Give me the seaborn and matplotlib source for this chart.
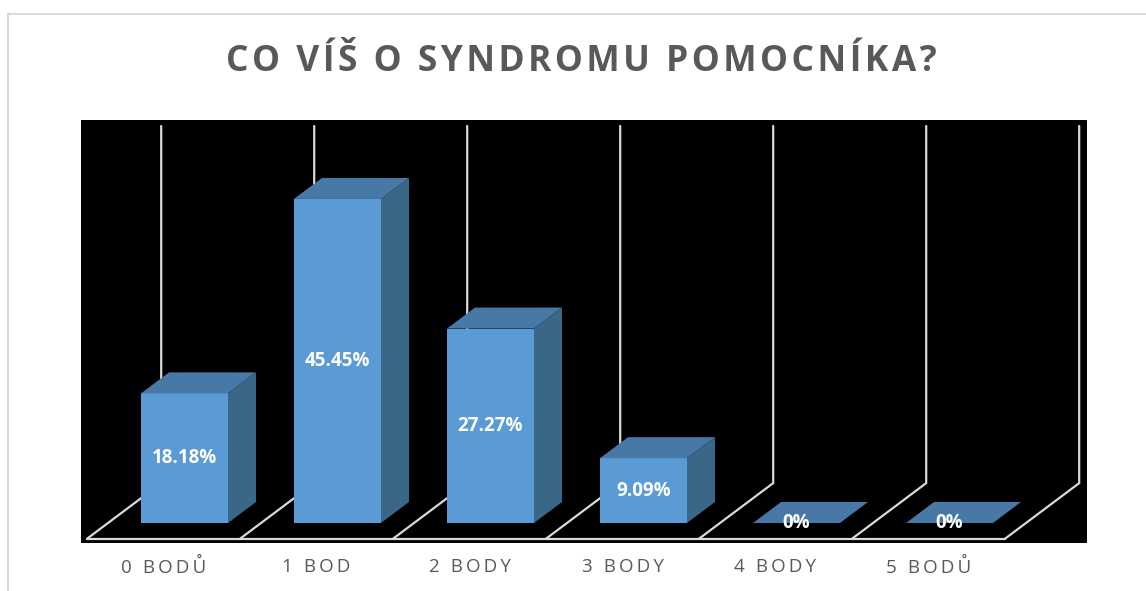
import matplotlib
matplotlib.use("Agg")
import matplotlib.pyplot as plt
import seaborn as sns
from matplotlib.patches import Polygon, Rectangle

# data
categories = ["0 BODŮ", "1 BOD", "2 BODY", "3 BODY", "4 BODY", "5 BODŮ"]
values = [18.18, 45.45, 27.27, 9.09, 0, 0]
value_labels = ["18.18%", "45.45%", "27.27%", "9.09%", "0%", "0%"]
title = "CO VÍŠ O SYNDROMU POMOCNÍKA?"

FRONT = "#5B9BD5"
TOP = "#4778A6"
SIDE = "#3A6688"
GRID = "#D9D9D9"
TEXT = "#595959"


def spaced(s, sep="\u2009"):
    # imitate the wide letter spacing of the original
    return sep.join(s)


sns.set_theme(style="white")
plt.rcParams["font.family"] = ["Open Sans", "DejaVu Sans"]

W, H = 1146, 591
fig = plt.figure(figsize=(W / 100, H / 100), dpi=100)
fig.patch.set_facecolor("white")

# light frame around the chart
fig.patches.append(Rectangle((8 / W, -0.1), 1.2, 1 - 14 / H + 0.1,
                             transform=fig.transFigure, fill=False,
                             edgecolor=GRID, lw=1.5))

ax = fig.add_axes([81 / W, (H - 543) / H, (1087 - 81) / W, (543 - 120) / H])
ax.set_facecolor("black")

sns.barplot(x=categories, y=values, order=categories, color=FRONT,
            saturation=1, width=87 / 153, ax=ax, linewidth=0, zorder=3)

ax.set_xlim((81 - 184.5) / 153, (1087 - 184.5) / 153)
ax.set_ylim(-(543 - 523) / 7.13, (523 - 120) / 7.13)
for s in ax.spines.values():
    s.set_visible(False)
ax.set_yticks([])
ax.set_ylabel("")
ax.set_xlabel("")

# pixel -> data scale for the depth effect
p0 = ax.transData.transform((0, 0))
p1 = ax.transData.transform((1, 1))
sx, sy = p1[0] - p0[0], p1[1] - p0[1]
dx, dy = 28 / sx, 21 / sy
top_line = ax.get_ylim()[1] - 6 / sy

# 3D floor and walls
n = len(categories)
front_y = -0.75 * dy
for k in range(n + 1):
    bx = k - 0.5
    fx = bx - 0.75 * dx
    bkx, bky = bx + 1.9 * dx, 1.9 * dy
    ax.plot([fx, bkx, bkx], [front_y, bky, top_line], color=GRID, lw=1.6,
            zorder=1, solid_joinstyle="miter")
ax.plot([-0.5 - 0.75 * dx, n - 0.5 - 0.75 * dx], [front_y, front_y],
        color=GRID, lw=1.6, zorder=1)

# top and side faces
bars = [p for p in ax.patches if isinstance(p, Rectangle)]
for p, lab in zip(bars, value_labels):
    x0, w, h = p.get_x(), p.get_width(), p.get_height()
    ax.add_patch(Polygon([(x0, h), (x0 + w, h), (x0 + w + dx, h + dy), (x0 + dx, h + dy)],
                         closed=True, facecolor=TOP, lw=0, zorder=4))
    if h > 0:
        ax.add_patch(Polygon([(x0 + w, 0), (x0 + w + dx, dy), (x0 + w + dx, h + dy), (x0 + w, h)],
                             closed=True, facecolor=SIDE, lw=0, zorder=4))
    ax.text(x0 + w / 2, h / 2, lab, ha="center", va="center", color="white",
            fontsize=13.5, fontweight="bold", zorder=6)

ax.set_xticks([i - 0.75 * dx for i in range(n)])
ax.set_xticklabels([spaced(c) for c in categories], color=TEXT, fontsize=13.5)
ax.tick_params(axis="x", length=0, pad=11)

fig.text(581 / W, 1 - 62 / H, spaced(title, "\u200a"), ha="center", va="center",
         fontsize=25.5, fontweight="bold", color=TEXT)

fig.savefig("out.png", dpi=100)
